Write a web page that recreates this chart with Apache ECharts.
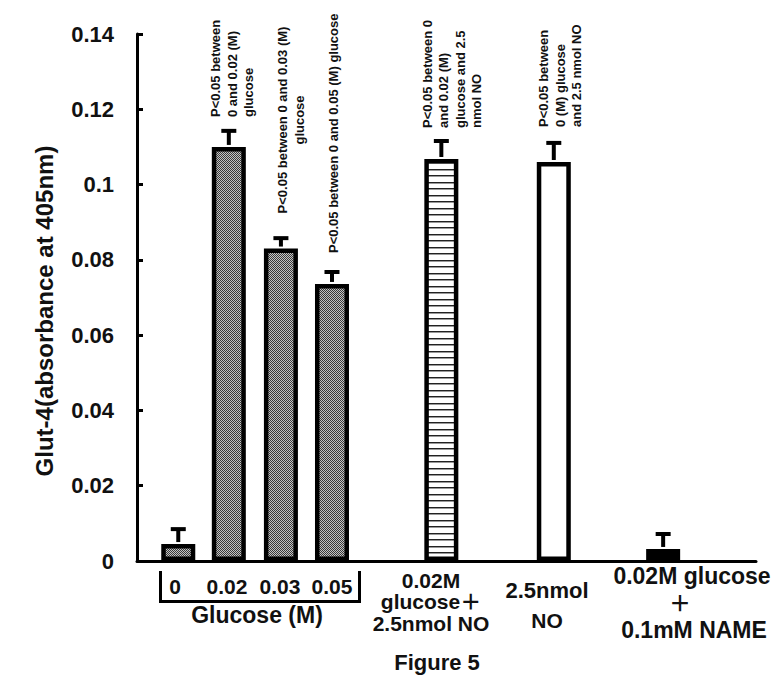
<!DOCTYPE html>
<html>
<head>
<meta charset="utf-8">
<script src="https://cdn.jsdelivr.net/npm/echarts@6/dist/echarts.min.js"></script>
<style>
html,body{margin:0;padding:0;background:#fff;}
#chart{width:777px;height:689px;}
</style>
</head>
<body>
<div id="chart"></div>
<script>
// ---- data ----
const categories = ['0', '0.02', '0.03', '0.05', '0.02M glucose + 2.5nmol NO', '2.5nmol NO', '0.02M glucose + 0.1mM NAME'];
const means  = [0.0045, 0.1100, 0.0830, 0.0736, 0.1068, 0.1060, 0.0032];
const errors = [0.0045, 0.0048, 0.0033, 0.0037, 0.0053, 0.0056, 0.0045];
const yMin = 0, yMax = 0.14, yStep = 0.02;
const yTitle = 'Glut-4(absorbance at 405nm)';
const annotations = [
  'P<0.05 between\n0 and 0.02 (M)\nglucose',
  'P<0.05 between 0 and 0.03 (M)\nglucose',
  'P<0.05 between 0 and 0.05 (M) glucose',
  'P<0.05 between 0\nand 0.02 (M)\nglucose and 2.5\nnmol NO',
  'P<0.05 between\n0 (M) glucose\nand 2.5 nmol NO'
];
const glucoseTicks = ['0', '0.02', '0.03', '0.05'];
const groupTitle = 'Glucose (M)';
const label5 = '0.02M\nglucose\uFF0B\n2.5nmol NO';
const label6 = ['2.5nmol', 'NO'];
const label7 = ['0.02M glucose', '\uFF0B', '0.1mM NAME'];
const figTitle = 'Figure 5';

// ---- layout (not data) ----
const slots = [0.8, 1.78, 2.79, 3.78, 5.9, 8.08, 10.2];
const FF = '"Liberation Sans", Arial, "Noto Sans CJK SC", sans-serif';

function makePattern(w, h, draw) {
  const c = document.createElement('canvas');
  c.width = w; c.height = h;
  const ctx = c.getContext('2d');
  draw(ctx);
  return { image: c.toDataURL(), repeat: 'repeat', imageWidth: w, imageHeight: h };
}
const checker = makePattern(2, 2, ctx => {
  ctx.fillStyle = '#c4c4c4'; ctx.fillRect(0, 0, 2, 2);
  ctx.fillStyle = '#3a3a3a'; ctx.fillRect(0, 0, 1, 1); ctx.fillRect(1, 1, 1, 1);
});
const stripes = makePattern(4, 13, ctx => {
  ctx.fillStyle = '#ffffff'; ctx.fillRect(0, 0, 4, 13);
  ctx.fillStyle = '#222'; ctx.fillRect(0, 0, 4, 1); ctx.fillRect(0, 6, 4, 1);
  ctx.fillStyle = '#999'; ctx.fillRect(0, 1, 4, 1); ctx.fillRect(0, 7, 4, 1);
});
const fills = [checker, checker, checker, checker, stripes, '#ffffff', '#000000'];

const chart = echarts.init(document.getElementById('chart'), null, { renderer: 'svg' });

function txt(text, x, y, size, lh) {
  const style = {
    text: text, fill: '#111', font: 'bold ' + size + 'px ' + FF,
    align: 'center', verticalAlign: 'middle'
  };
  if (lh) style.lineHeight = lh;
  return { type: 'text', x: x, y: y, silent: true, style: style };
}
function line(x1, y1, x2, y2, w) {
  return { type: 'line', silent: true, shape: { x1, y1, x2, y2 }, style: { stroke: '#000', lineWidth: w || 3 } };
}
const annPos = [
  { x: 232, y: 117, align: 'left' },
  { x: 291, y: 120, align: 'center' },
  { x: 333, y: 253, align: 'left' },
  { x: 452, y: 128, align: 'left' },
  { x: 560, y: 127, align: 'left' }
];

const graphics = [];
annotations.forEach((a, i) => {
  const p = annPos[i];
  graphics.push({
    type: 'text', x: p.x, y: p.y, rotation: Math.PI / 2, silent: true,
    style: { text: a, fill: '#111', font: 'bold 13px ' + FF, align: p.align, verticalAlign: 'middle', lineHeight: 16.5 }
  });
});
const gx = [175, 227, 280, 332];
glucoseTicks.forEach((t, i) => graphics.push(txt(t, gx[i], 586, 21)));
graphics.push(line(160.5, 571, 160.5, 603));
graphics.push(line(159, 601.5, 361, 601.5));
graphics.push(line(359.5, 571, 359.5, 603));
graphics.push(txt(groupTitle, 257, 615, 23));
graphics.push(txt(label5, 431, 601.5, 21, 21.5));
graphics.push(txt(label6[0], 547, 590, 22));
graphics.push(txt(label6[1], 547, 620, 21));
graphics.push(txt(label7[0], 692, 576, 23));
graphics.push(txt(label7[1], 680, 603, 22));
graphics.push(txt(label7[2], 694, 630, 23));
graphics.push(txt(figTitle, 437, 662, 22));
graphics.push({
  type: 'text', x: 44, y: 311, rotation: Math.PI / 2, silent: true,
  style: { text: yTitle, fill: '#111', font: 'bold 24px ' + FF, align: 'center', verticalAlign: 'middle' }
});

chart.setOption({
  animation: false,
  backgroundColor: '#fff',
  grid: { left: 137, right: 21, top: 34, bottom: 128, containLabel: false },
  xAxis: {
    type: 'value', min: 0, max: 12,
    axisLine: { show: true, lineStyle: { color: '#000', width: 3 } },
    axisTick: { show: false }, axisLabel: { show: false }, splitLine: { show: false }
  },
  yAxis: {
    type: 'value', min: yMin, max: yMax, interval: yStep,
    axisLine: { show: true, lineStyle: { color: '#000', width: 3 } },
    axisTick: { show: true, inside: true, length: 6, lineStyle: { color: '#000', width: 3 } },
    axisLabel: { fontSize: 22, fontWeight: 'bold', color: '#111', margin: 23, fontFamily: FF },
    splitLine: { show: false }
  },
  series: [
    {
      type: 'bar', barWidth: 34, silent: true,
      data: means.map((v, i) => ({ name: categories[i], value: [slots[i], v], itemStyle: { color: fills[i] } })),
      itemStyle: { borderColor: '#000', borderWidth: 4.5 }
    },
    {
      type: 'custom', silent: true,
      data: means.map((v, i) => [slots[i], v, errors[i]]),
      renderItem: function (params, api) {
        const x = api.value(0), v = api.value(1), e = api.value(2);
        const top = api.coord([x, v]);
        const cap = api.coord([x, v + e]);
        return {
          type: 'group', children: [
            { type: 'line', shape: { x1: top[0], y1: top[1] - 2, x2: top[0], y2: cap[1] + 2 }, style: { stroke: '#000', lineWidth: 4 } },
            { type: 'line', shape: { x1: cap[0] - 7.5, y1: cap[1] + 2, x2: cap[0] + 7.5, y2: cap[1] + 2 }, style: { stroke: '#000', lineWidth: 4 } }
          ]
        };
      }
    }
  ],
  graphic: { elements: graphics }
});
</script>
</body>
</html>
